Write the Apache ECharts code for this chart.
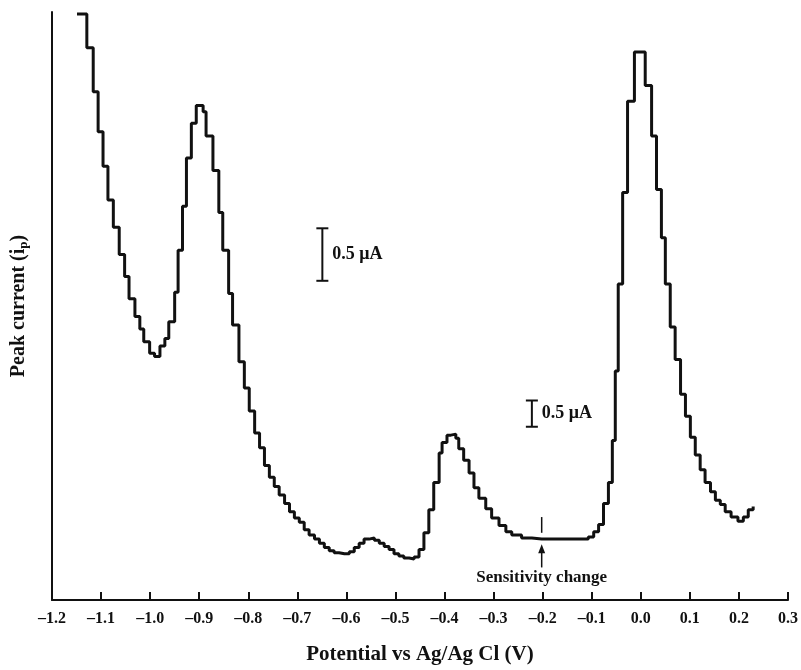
<!DOCTYPE html>
<html>
<head>
<meta charset="utf-8">
<title>Peak current vs potential</title>
<script src="https://cdn.jsdelivr.net/npm/echarts@6/dist/echarts.min.js"></script>
<style>
html, body { margin: 0; padding: 0; background: #fff; }
#chart { width: 801px; height: 670px; }
</style>
</head>
<body>
<div id="chart"></div>
<script>
// potential (V vs Ag/AgCl) where each step of the staircase starts
var potential = [
	-1.149, -1.129, -1.116, -1.106, -1.096, -1.086, -1.075, -1.063, -1.052, -1.043,
	-1.031, -1.021, -1.013, -1.001, -0.991, -0.980, -0.970, -0.962, -0.950, -0.943,
	-0.934, -0.926, -0.916, -0.906, -0.892, -0.886, -0.872, -0.860, -0.852, -0.840,
	-0.832, -0.819, -0.808, -0.798, -0.787, -0.777, -0.767, -0.757, -0.747, -0.737,
	-0.726, -0.716, -0.706, -0.696, -0.686, -0.676, -0.665, -0.655, -0.645, -0.635,
	-0.625, -0.615, -0.604, -0.594, -0.584, -0.574, -0.564, -0.554, -0.543, -0.533,
	-0.523, -0.513, -0.503, -0.493, -0.483, -0.472, -0.462, -0.452, -0.442, -0.432,
	-0.422, -0.411, -0.405, -0.395, -0.387, -0.377, -0.371, -0.361, -0.350, -0.340,
	-0.330, -0.316, -0.304, -0.289, -0.275, -0.263, -0.243, -0.222, -0.202, -0.182,
	-0.161, -0.141, -0.127, -0.107, -0.096, -0.086, -0.076, -0.066, -0.058, -0.052,
	-0.046, -0.037, -0.027, -0.013, 0.009, 0.022, 0.032, 0.042, 0.050, 0.060,
	0.070, 0.081, 0.091, 0.101, 0.111, 0.121, 0.131, 0.142, 0.152, 0.162,
	0.172, 0.184, 0.198, 0.209, 0.219, 0.229
];

// recorder deflection (uA on the left-hand sensitivity)
var current = [
	5.58, 5.26, 4.84, 4.46, 4.13, 3.81, 3.55, 3.29, 3.08, 2.87,
	2.70, 2.58, 2.46, 2.35, 2.32, 2.42, 2.49, 2.65, 2.93, 3.33,
	3.75, 4.21, 4.54, 4.71, 4.65, 4.42, 4.09, 3.69, 3.33, 2.92,
	2.62, 2.27, 2.02, 1.80, 1.59, 1.45, 1.28, 1.17, 1.08, 1.00,
	0.92, 0.84, 0.78, 0.74, 0.67, 0.62, 0.58, 0.54, 0.50, 0.47,
	0.45, 0.44, 0.44, 0.46, 0.50, 0.54, 0.58, 0.59, 0.57, 0.54,
	0.51, 0.48, 0.44, 0.42, 0.40, 0.39, 0.41, 0.48, 0.64, 0.86,
	1.12, 1.40, 1.50, 1.57, 1.58, 1.54, 1.44, 1.33, 1.21, 1.07,
	0.97, 0.87, 0.78, 0.71, 0.65, 0.62, 0.59, 0.58, 0.58, 0.58,
	0.58, 0.58, 0.58, 0.60, 0.65, 0.72, 0.92, 1.12, 1.52, 2.18,
	3.01, 3.88, 4.75, 5.22, 4.90, 4.42, 3.91, 3.45, 3.01, 2.60,
	2.29, 1.96, 1.75, 1.55, 1.38, 1.24, 1.12, 1.03, 0.95, 0.91,
	0.84, 0.79, 0.75, 0.79, 0.86, 0.89
];

// scale bars: [potential, bottom, top]
var scaleBarLeft = [-0.649, 3.04, 3.54];
var scaleBarRight = [-0.222, 1.65, 1.90];
var scaleBarText = '0.5 μA';
var sensitivityAt = -0.202;

var serif = "'Liberation Serif', 'DejaVu Serif', serif";

var chartObj = echarts.init(document.getElementById('chart'));

var points = [];
for (var i = 0; i < potential.length; i++) {
	points.push([potential[i], current[i]]);
}

var option = {
	animation: false,
	backgroundColor: '#fff',
	grid: { left: 52, right: 11, top: 12, bottom: 64 },
	xAxis: {
		type: 'value',
		min: -1.2,
		max: 0.3,
		interval: 0.1,
		name: 'Potential vs Ag/Ag Cl (V)',
		nameLocation: 'middle',
		nameGap: 44,
		nameTextStyle: { fontFamily: serif, fontWeight: 'bold', fontSize: 21, color: '#111' },
		axisLine: { onZero: false, lineStyle: { color: '#111', width: 2 } },
		axisTick: { inside: true, length: 8, lineStyle: { color: '#111', width: 2 } },
		axisLabel: {
			margin: 11,
			fontFamily: serif,
			fontWeight: 'bold',
			fontSize: 16,
			color: '#111',
			formatter: function(v) {
				return v.toFixed(1).replace('-', '–');
			}
		},
		splitLine: { show: false }
	},
	yAxis: {
		type: 'value',
		min: 0,
		max: 5.6,
		name: 'Peak current (i{sub|p})',
		nameLocation: 'middle',
		nameGap: 22,
		nameTextStyle: {
			fontFamily: serif, fontWeight: 'bold', fontSize: 20, color: '#111',
			rich: {
				sub: { fontFamily: serif, fontWeight: 'bold', fontSize: 13, color: '#111', padding: [10, 0, 0, 0] }
			}
		},
		axisLine: { show: true, onZero: false, lineStyle: { color: '#111', width: 2 } },
		axisTick: { show: false },
		axisLabel: { show: false },
		splitLine: { show: false }
	},
	series: [{
		name: 'Peak current',
		type: 'line',
		step: 'end',
		showSymbol: false,
		lineStyle: { color: '#111', width: 3 },
		data: points
	}]
};
chartObj.setOption(option);

// annotations placed in data coordinates
function px(x, y) {
	return chartObj.convertToPixel({ gridIndex: 0 }, [x, y]);
}
function scaleBar(bar) {
	var b = px(bar[0], bar[1]);
	var t = px(bar[0], bar[2]);
	var s = { stroke: '#111', lineWidth: 2 };
	return [
		{ type: 'line', shape: { x1: b[0], y1: b[1], x2: t[0], y2: t[1] }, style: s },
		{ type: 'line', shape: { x1: b[0] - 6, y1: b[1], x2: b[0] + 6, y2: b[1] }, style: s },
		{ type: 'line', shape: { x1: t[0] - 6, y1: t[1], x2: t[0] + 6, y2: t[1] }, style: s },
		{
			type: 'text', x: b[0] + 10, y: (b[1] + t[1]) / 2,
			style: { text: scaleBarText, fill: '#111', font: 'bold 18px ' + serif, verticalAlign: 'middle' }
		}
	];
}

var tickTop = px(sensitivityAt, 0.79);
var tickBottom = px(sensitivityAt, 0.64);
var arrowTop = px(sensitivityAt, 0.53);
var arrowBottom = px(sensitivityAt, 0.31);
var graphics = scaleBar(scaleBarLeft).concat(scaleBar(scaleBarRight)).concat([
	{ type: 'line', shape: { x1: tickTop[0], y1: tickTop[1], x2: tickBottom[0], y2: tickBottom[1] }, style: { stroke: '#111', lineWidth: 1.5 } },
	{ type: 'line', shape: { x1: arrowTop[0], y1: arrowTop[1] + 6, x2: arrowBottom[0], y2: arrowBottom[1] }, style: { stroke: '#111', lineWidth: 1.5 } },
	{
		type: 'polygon',
		shape: { points: [[arrowTop[0], arrowTop[1]], [arrowTop[0] - 3.5, arrowTop[1] + 9], [arrowTop[0] + 3.5, arrowTop[1] + 9]] },
		style: { fill: '#111' }
	},
	{
		type: 'text', x: arrowBottom[0], y: arrowBottom[1] + 2,
		style: { text: 'Sensitivity change', fill: '#111', font: 'bold 17px ' + serif, align: 'center', verticalAlign: 'top' }
	}
]);
chartObj.setOption({ graphic: graphics });
</script>
</body>
</html>
